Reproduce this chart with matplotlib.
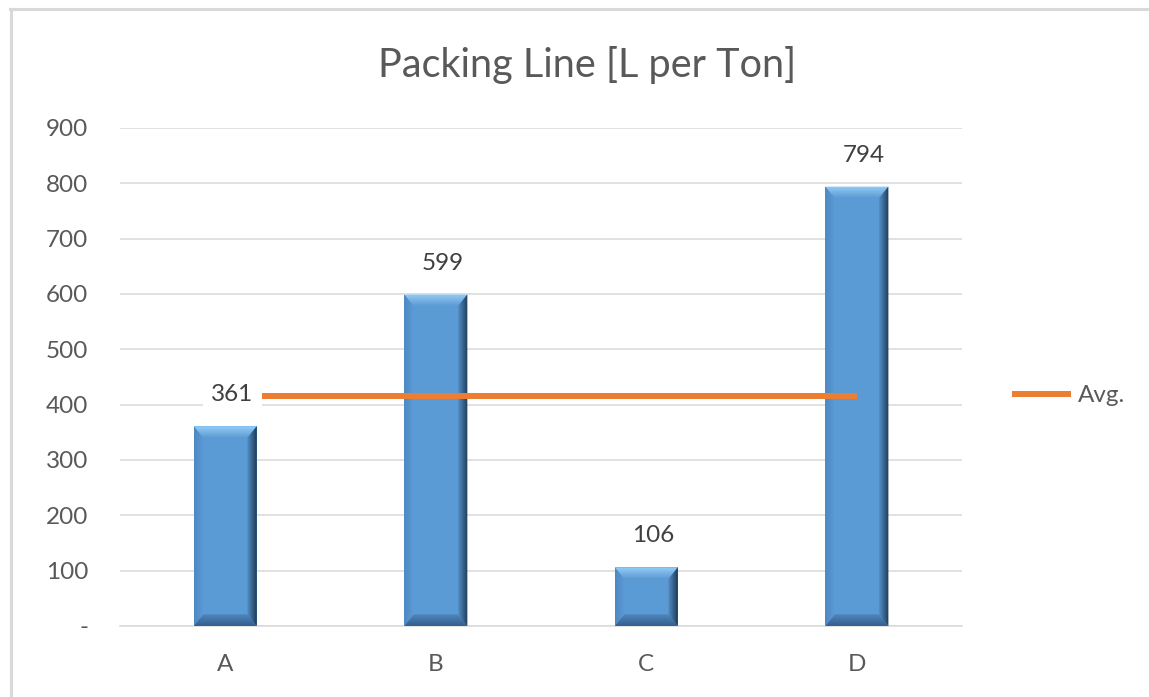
"""Packing line water use per ton, with the average drawn across the bars."""

import matplotlib

matplotlib.use("Agg")
import matplotlib.pyplot as plt  # noqa: E402
import numpy as np  # noqa: E402
from matplotlib.colors import LinearSegmentedColormap  # noqa: E402
from matplotlib.lines import Line2D  # noqa: E402
from matplotlib.patches import Polygon  # noqa: E402

categories = ["A", "B", "C", "D"]
litres_per_ton = [361, 599, 106, 794]
avg_value = 415
y_ticks = [0, 100, 200, 300, 400, 500, 600, 700, 800, 900]
y_tick_labels = ["-", "100", "200", "300", "400", "500", "600", "700", "800", "900"]

plt.rcParams["font.family"] = ["Lato", "DejaVu Sans"]
TEXT = "#595959"
BAR = "#5B9BD5"
GRID = "#d9d9d9"
FS = 17.5


def gradient_poly(ax, verts, c0, c1, horizontal=True, z=3):
    """Fill a polygon with a linear gradient (c0 -> c1) clipped to its outline."""
    poly = Polygon(verts, closed=True, facecolor="none", edgecolor="none", zorder=z)
    ax.add_patch(poly)
    xs = [v[0] for v in verts]
    ys = [v[1] for v in verts]
    cmap = LinearSegmentedColormap.from_list("g", [c0, c1])
    ramp = np.linspace(0, 1, 64)
    img = ramp[None, :] if horizontal else ramp[::-1][:, None]
    im = ax.imshow(img, cmap=cmap, extent=[min(xs), max(xs), min(ys), max(ys)],
                   aspect="auto", zorder=z, interpolation="bilinear")
    im.set_clip_path(poly)


fig = plt.figure(figsize=(11.49, 6.97), dpi=100)
ax = fig.add_axes([0.1044, 0.1019, 0.7329, 0.7145])

x = np.arange(len(categories))
width = 0.30
ax.bar(x, litres_per_ton, width=width, color=BAR, zorder=2)

# bevelled bar edges
dx, dy = 0.045, 21
for xi, h in zip(x, litres_per_ton):
    x0, x1 = xi - width / 2, xi + width / 2
    b = min(dy, h / 2)
    gradient_poly(ax, [(x0, h), (x1, h), (x1 - dx, h - b), (x0 + dx, h - b)],
                  "#5d9ad4", "#93cdf6", horizontal=False)
    gradient_poly(ax, [(x0, 0), (x1, 0), (x1 - dx, b), (x0 + dx, b)],
                  "#345f8c", "#4f86bd", horizontal=False)
    gradient_poly(ax, [(x0, 0), (x0, h), (x0 + dx, h - b), (x0 + dx, b)],
                  "#4d88c2", "#5c9bd6")
    gradient_poly(ax, [(x1, 0), (x1, h), (x1 - dx, h - b), (x1 - dx, b)],
                  "#5590c8", "#1d3a55")

avg_line, = ax.plot([x[0], x[-1]], [avg_value, avg_value], color="#ED7D31",
                    lw=4.3, solid_capstyle="butt", zorder=4, label="Avg.")

for xi, h in zip(x, litres_per_ton):
    ax.annotate(f"{h}", (xi, h), xytext=(5, 15), textcoords="offset points",
                ha="center", va="bottom", fontsize=FS, color="#404040", zorder=6,
                bbox=dict(boxstyle="square,pad=0.35", fc="white", ec="none"))

ax.set_xlim(-0.5, 3.5)
ax.set_ylim(0, 900)
ax.set_yticks(y_ticks)
ax.set_yticklabels(y_tick_labels)
ax.set_xticks(x)
ax.set_xticklabels(categories)
ax.tick_params(axis="y", length=0, pad=23, labelsize=FS, labelcolor=TEXT)
ax.tick_params(axis="x", length=0, pad=20, labelsize=FS, labelcolor=TEXT)
ax.grid(axis="y", color=GRID, lw=1.1, zorder=0)
ax.set_axisbelow(True)
for side in ["top", "right", "left"]:
    ax.spines[side].set_visible(False)
ax.spines["bottom"].set_color(GRID)
ax.spines["bottom"].set_linewidth(1.1)

# title is centred on the whole chart area, not the plot area
fig.text(0.511, 1 - 65 / 697, "Packing Line [L per Ton]", fontsize=28.5, color=TEXT,
         ha="center", va="center")

fig.legend(handles=[avg_line], loc="center left", bbox_to_anchor=(0.8808, 0.432),
           frameon=False, fontsize=FS, labelcolor=TEXT, handlelength=2.44,
           handletextpad=0.28, borderpad=0, borderaxespad=0)

# chart area border (top and left edges)
fig.add_artist(Line2D([10 / 1149, 1], [1 - 9 / 697, 1 - 9 / 697], color=GRID, lw=2.2,
                      transform=fig.transFigure))
fig.add_artist(Line2D([11 / 1149, 11 / 1149], [0, 1 - 9 / 697], color=GRID, lw=2.2,
                      transform=fig.transFigure))

fig.savefig("out.png", dpi=100)
plt.close(fig)
